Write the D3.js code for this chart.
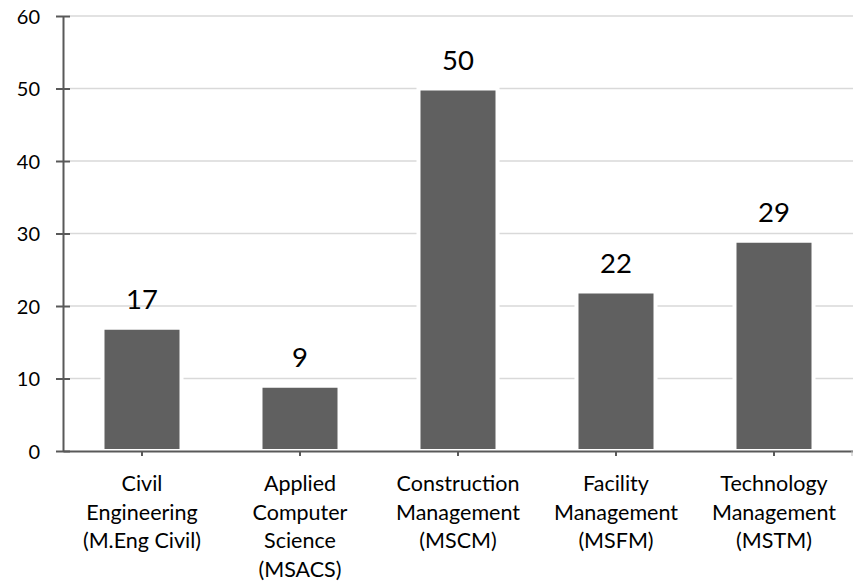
<!DOCTYPE html>
<html>
<head>
<meta charset="utf-8">
<script src="https://cdn.jsdelivr.net/npm/d3@7"></script>
<style>
  html, body { margin: 0; padding: 0; background: #fff; }
  svg { display: block; font-family: Lato, "Open Sans", sans-serif; }
</style>
</head>
<body>
<svg id="chart" width="853" height="583"></svg>
<script>
const categories = [
  ["Civil", "Engineering", "(M.Eng Civil)"],
  ["Applied", "Computer", "Science", "(MSACS)"],
  ["Construction", "Management", "(MSCM)"],
  ["Facility", "Management", "(MSFM)"],
  ["Technology", "Management", "(MSTM)"]
];
const values = [17, 9, 50, 22, 29];
const yTicks = [0, 10, 20, 30, 40, 50, 60];

(function () {
const svg = d3.select("#chart");
const mLeft = 63, mRight = 853, mTop = 16, mBottom = 451;

const keys = categories.map((c, i) => i);
const x = d3.scaleBand().domain(keys).range([mLeft, mRight]).paddingInner(0.5).paddingOuter(0.25);
const y = d3.scaleLinear().domain([0, 60]).range([mBottom, mTop]);

// gridlines
svg.append("g").selectAll("line").data(yTicks.filter(d => d > 0)).join("line")
  .attr("x1", mLeft + 7).attr("x2", mRight)
  .attr("y1", d => y(d)).attr("y2", d => y(d))
  .attr("stroke", "#d9d9d9").attr("stroke-width", 1.5);

// bars with white halo
const bars = svg.append("g");
bars.selectAll("rect.halo").data(values).join("rect").attr("class", "halo")
  .attr("x", (d, i) => x(i) - 2)
  .attr("width", x.bandwidth() + 4)
  .attr("y", d => y(d) - 2)
  .attr("height", d => y(0) - y(d) + 2)
  .attr("fill", "#fff");
bars.selectAll("rect.bar").data(values).join("rect").attr("class", "bar")
  .attr("x", (d, i) => x(i) + 2)
  .attr("width", x.bandwidth() - 4)
  .attr("y", d => y(d) + 2)
  .attr("height", d => y(0) - y(d) - 4)
  .attr("fill", "#606060");

// value labels
svg.append("g").selectAll("text").data(values).join("text")
  .attr("x", (d, i) => x(i) + x.bandwidth() / 2)
  .attr("y", d => y(d) - 19)
  .attr("text-anchor", "middle")
  .attr("font-size", 27.5)
  .attr("fill", "#000")
  .text(d => d);

// y axis
const yAxis = svg.append("g").attr("transform", `translate(${mLeft},0)`)
  .call(d3.axisLeft(y).tickValues(yTicks).tickSize(7).tickPadding(0).tickSizeOuter(0));
yAxis.select(".domain").attr("stroke", "#595959").attr("stroke-width", 2);
yAxis.selectAll(".tick line").attr("x1", -7).attr("x2", 7).attr("stroke", "#595959").attr("stroke-width", 2);
yAxis.selectAll(".tick text").attr("x", -23).attr("dy", "0.35em")
  .attr("font-size", 20).attr("font-family", "Lato, sans-serif").attr("fill", "#000");

// x axis
const xAxis = svg.append("g").attr("transform", `translate(0,${mBottom})`)
  .call(d3.axisBottom(x).tickSize(5).tickSizeOuter(0).tickFormat(""));
xAxis.select(".domain").attr("stroke", "#595959").attr("stroke-width", 2);
xAxis.selectAll(".tick line").attr("stroke", "#595959").attr("stroke-width", 2);
svg.append("line").attr("x1", mRight - 1).attr("x2", mRight - 1).attr("y1", mBottom).attr("y2", mBottom + 5)
  .attr("stroke", "#bbbbbb").attr("stroke-width", 1);

// category labels
const cat = svg.append("g").selectAll("text").data(categories).join("text")
  .attr("x", (d, i) => x(i) + x.bandwidth() / 2)
  .attr("y", 491)
  .attr("text-anchor", "middle")
  .attr("font-size", 21.5)
  .attr("fill", "#000");
cat.selectAll("tspan").data(d => d).join("tspan")
  .attr("x", function() { return d3.select(this.parentNode).attr("x"); })
  .attr("dy", (d, i) => i === 0 ? 0 : 28.5)
  .text(d => d);
})();
</script>
</body>
</html>
